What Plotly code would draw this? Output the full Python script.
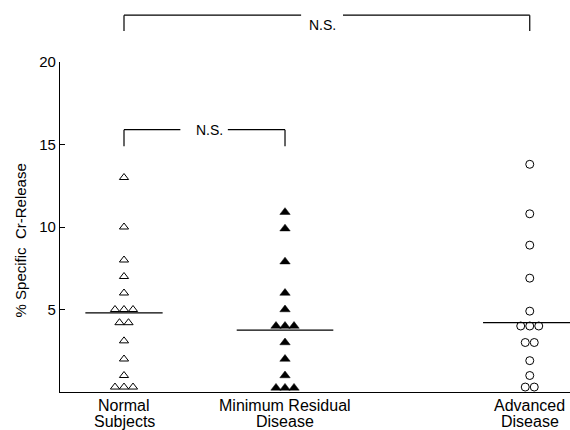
import plotly.graph_objects as go
from collections import Counter

# ---- data ----
categories = [["Normal", "Subjects"], ["Minimum Residual", "Disease"], ["Advanced", "Disease"]]
cat_pos = [1.0, 2.0, 3.52]
normal_vals = [13, 10, 8, 7, 6, 5, 5, 5, 4.2, 4.2, 3.1, 2, 1, 0.3, 0.3, 0.3]
mrd_vals = [10.9, 9.9, 7.9, 6, 5, 4, 4, 4, 3, 2, 1, 0.25, 0.25, 0.25]
adv_vals = [13.8, 10.8, 8.9, 6.9, 4.9, 4, 4, 4, 3, 3, 1.9, 1.0, 0.3, 0.3]
group_means = [4.8, 3.75, 4.2]
y_ticks = [5, 10, 15, 20]

FONT = "Liberation Sans, Arial, sans-serif"
STEP = 0.056


def spread(values, center):
    counts = Counter(values)
    seen = Counter()
    xs = []
    for v in values:
        n = counts[v]
        i = seen[v]
        seen[v] += 1
        xs.append(center + (i - (n - 1) / 2) * STEP)
    return xs


fig = go.Figure()
styles = [
    dict(symbol="triangle-up-open", size=8, color="black", line=dict(width=1, color="black")),
    dict(symbol="triangle-up", size=9, color="black", line=dict(width=0.5, color="black")),
    dict(symbol="circle-open", size=8, color="black", line=dict(width=1, color="black")),
]
halfw = [(0.24, 0.24), (0.30, 0.30), (0.29, 0.27)]
for vals, pos, st, m, hw in zip([normal_vals, mrd_vals, adv_vals], cat_pos, styles, group_means, halfw):
    fig.add_trace(go.Scatter(x=[pos - hw[0], pos + hw[1]], y=[m, m], mode="lines",
                             line=dict(color="black", width=1.2), hoverinfo="skip"))
    fig.add_trace(go.Scatter(x=spread(vals, pos), y=vals, mode="markers", marker=st, cliponaxis=False))

line = dict(color="black", width=1.2)
# top bracket (Normal vs Advanced)
ytop, ytick = 1.142, 1.094
x0, x3 = cat_pos[0], cat_pos[2]
fig.add_shape(type="line", xref="x", yref="paper", x0=x0, x1=x0, y0=ytop, y1=ytick, line=line)
fig.add_shape(type="line", xref="x", yref="paper", x0=x3, x1=x3, y0=ytop, y1=ytick, line=line)
fig.add_shape(type="line", xref="x", yref="paper", x0=x0, x1=2.10, y0=ytop, y1=ytop, line=line)
fig.add_shape(type="line", xref="x", yref="paper", x0=2.36, x1=x3, y0=ytop, y1=ytop, line=line)
fig.add_annotation(x=2.23, y=ytop, xref="x", yref="paper", text="N.S.", showarrow=False,
                   font=dict(family=FONT, size=14, color="black"))
# inner bracket (Normal vs MRD)
yb, ybt = 15.9, 14.9
x1b = cat_pos[1]
fig.add_shape(type="line", x0=x0, x1=x0, y0=yb, y1=ybt, line=line)
fig.add_shape(type="line", x0=x1b, x1=x1b, y0=yb, y1=ybt, line=line)
fig.add_shape(type="line", x0=x0, x1=1.35, y0=yb, y1=yb, line=line)
fig.add_shape(type="line", x0=1.645, x1=x1b, y0=yb, y1=yb, line=line)
fig.add_annotation(x=1.53, y=yb, text="N.S.", showarrow=False,
                   font=dict(family=FONT, size=14, color="black"))

fig.add_annotation(x=-0.078, y=0.46, xref="paper", yref="paper", text="% Specific  Cr-Release",
                   textangle=-90, showarrow=False, xanchor="center", yanchor="middle",
                   font=dict(family=FONT, size=15, color="black"))

# category labels as annotations just under the axis (two tight lines)
for pos, (l1, l2) in zip(cat_pos, categories):
    for txt, yy in ((l1, -0.042), (l2, -0.088)):
        fig.add_annotation(x=pos, y=yy, xref="x", yref="paper", text=txt, showarrow=False,
                           xanchor="center", yanchor="middle",
                           font=dict(family=FONT, size=16, color="black"))

fig.update_layout(
    width=570, height=430,
    margin=dict(l=60, r=0, t=62, b=38),
    paper_bgcolor="white", plot_bgcolor="white",
    showlegend=False,
    font=dict(family=FONT, size=15, color="black"),
)
fig.update_xaxes(range=[0.6025, 3.77], showticklabels=False, showgrid=False,
                 zeroline=False, showline=True, linecolor="black", linewidth=1.2, ticks="")
fig.update_yaxes(range=[0, 20], tickvals=y_ticks, showgrid=False, zeroline=False, showline=True,
                 linecolor="black", linewidth=1.2, ticks="inside", ticklen=5, tickcolor="black",
                 tickfont=dict(family=FONT, size=15, color="black"))

fig.write_html("out.html", config={"displayModeBar": False},
               post_script="document.body.style.margin='0';")
